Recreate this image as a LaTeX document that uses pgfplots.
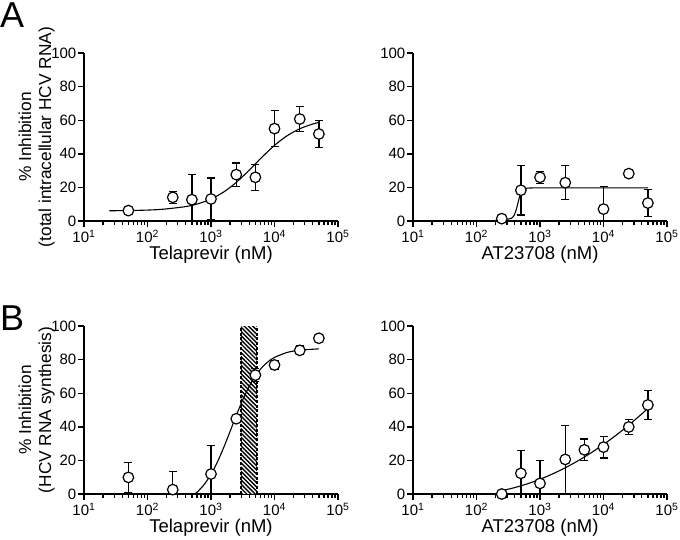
\documentclass[border=0pt]{standalone}
\usepackage{fontspec}
\setmainfont{Liberation Sans}
\usepackage{pgfplots}
\pgfplotsset{compat=1.18}
\usepackage{pgfplotstable}
\usetikzlibrary{patterns.meta}

\pgfplotstableread{
x y e
50 6.2 2
250 14.1 3.5
500 12.7 14.9
1000 13.1 12.5
2500 27.6 7
5000 26 7.7
10000 55 10.6
25000 60.7 7.4
50000 51.8 8.2
}\dataAL
\pgfplotstableread{
x y e
250 1.4 2
500 18.3 14.7
1000 26 3.5
2500 22.8 10.2
10000 7.1 13.5
25000 28.2 2
50000 10.7 8.1
}\dataAR
\pgfplotstableread{
x y e
50 9.9 8.9
250 2.6 10.7
1000 11.9 16.9
2500 44.8 0
5000 70.8 4
10000 76.8 2.4
25000 85.5 2.6
50000 92.7 0
}\dataBL
\pgfplotstableread{
x y e
250 0 0
500 12.3 13.8
1000 6.3 13.6
2500 20.6 20.1
5000 26.3 6.5
10000 27.9 6.5
25000 39.9 4.4
50000 53 8.5
}\dataBR

\pgfplotsset{
  myPanel/.style={
    scale only axis, width=254bp, height=168bp,
    xmin=10, xmax=100000, ymin=0, ymax=100,
    axis lines=left, axis line style={-, line width=1.9bp},
    tick style={black, line width=1.4bp},
    major tick length=6bp, minor tick length=3.5bp, tick align=outside,
    xtick={10,100,1000,10000,100000},
    xticklabels={10\textsuperscript{1},10\textsuperscript{2},10\textsuperscript{3},10\textsuperscript{4},10\textsuperscript{5}},
    minor xtick={20,30,40,50,60,70,80,90,200,300,400,500,600,700,800,900,2000,3000,4000,5000,6000,7000,8000,9000,20000,30000,40000,50000,60000,70000,80000,90000},
    ytick={0,20,40,60,80,100},
    yticklabels={0,20,40,60,80,100},
    tick label style={font=\fontsize{15bp}{16bp}\selectfont, inner sep=1.5bp},
    xticklabel style={yshift=-1.5bp},
    xlabel style={font=\fontsize{18.5bp}{20bp}\selectfont, at={(axis description cs:0.5,0)}, anchor=north, yshift=-25bp, inner sep=0pt},
    ylabel style={font=\fontsize{17.3bp}{20bp}\selectfont, at={(axis description cs:-0.115,0.5)}, anchor=south, align=center, inner sep=0pt},
    clip mode=individual,
  },
  myCurve/.style={black, line width=1.1bp, no marks},
  myPts/.style={only marks, mark=*, mark size=5.3bp,
    mark options={fill=white, draw=black, line width=1.2bp},
    error bars/y dir=both, error bars/y explicit,
    error bars/error bar style={black, line width=1.3bp},
    error bars/error mark options={rotate=90, black, line width=1.3bp, mark size=4bp}},
}

\begin{document}
\begin{tikzpicture}
\useasboundingbox (0bp,0bp) rectangle (680bp,-540bp);

\node[anchor=base west, inner sep=0pt, font=\fontsize{36bp}{36bp}\selectfont] at (0bp,-27bp) {A};
\node[anchor=base west, inner sep=0pt, font=\fontsize{36bp}{36bp}\selectfont] at (0bp,-330bp) {B};

% A left
\begin{semilogxaxis}[myPanel, at={(84bp,-221bp)}, anchor=south west,
  xlabel={Telaprevir (nM)}, ylabel={\% Inhibition\\(total intracellular HCV RNA)}]
\addplot[myCurve, smooth] coordinates {
(25.1,6.10) (63.1,6.29) (158.5,6.88) (398,8.57) (631,10.31) (1000,13.09) (1585,17.27)
(2512,23.05) (3981,30.19) (6310,37.88) (10000,45.02) (15849,50.78) (25119,54.94)
(39811,57.71) (50119,58.69)};
\addplot[myPts] table[x=x, y=y, y error=e] {\dataAL};
\end{semilogxaxis}

% A right
\begin{semilogxaxis}[myPanel, at={(413bp,-221bp)}, anchor=south west,
  xlabel={AT23708 (nM)}]
\addplot[myCurve] coordinates {
(250,1.0) (282,1.01) (316,1.12) (355,1.61) (380,2.6) (398,3.91) (427,7.3) (447,10.35)
(468,13.4) (501,16.79) (525,18.1) (562,19.09) (631,19.58) (794,19.7) (50119,19.7)};
\addplot[myPts] table[x=x, y=y, y error=e] {\dataAR};
\end{semilogxaxis}

% B left
\begin{semilogxaxis}[myPanel, at={(84bp,-494bp)}, anchor=south west,
  xlabel={Telaprevir (nM)}, ylabel={\% Inhibition\\(HCV RNA synthesis)}]
\addplot[draw=none, fill=white, postaction={pattern={Lines[angle=-45, distance=3bp, line width=1.4bp]}}]
  coordinates {(2950,0) (2950,100) (5300,100) (5300,0)} -- cycle;
\addplot[black, line width=1.6bp, dash pattern=on 3bp off 1.8bp, no marks] coordinates {(2950,0) (2950,100)};
\addplot[black, line width=1.6bp, dash pattern=on 3bp off 1.8bp, no marks] coordinates {(5300,0) (5300,100)};
\addplot[myCurve, smooth] coordinates {
(560,0) (631,1.76) (794,6.03) (1000,11.73) (1259,18.98) (1585,27.63) (1995,37.2)
(2512,46.94) (3162,56.07) (3981,63.97) (5012,70.35) (6310,75.22) (7943,78.79)
(10000,81.3) (15849,84.27) (25119,85.6) (50119,86.4)};
\addplot[myPts] table[x=x, y=y, y error=e] {\dataBL};
\end{semilogxaxis}

% B right
\begin{semilogxaxis}[myPanel, at={(413bp,-494bp)}, anchor=south west,
  xlabel={AT23708 (nM)}]
\addplot[myCurve, smooth] coordinates {
(251,2.0) (398,3.79) (631,6.05) (1000,8.79) (1585,11.99) (2512,15.66) (3981,19.80)
(6310,24.41) (10000,29.50) (15849,35.05) (25119,41.08) (39811,47.58) (50119,51.0)};
\addplot[myPts] table[x=x, y=y, y error=e] {\dataBR};
\end{semilogxaxis}
\end{tikzpicture}
\end{document}
